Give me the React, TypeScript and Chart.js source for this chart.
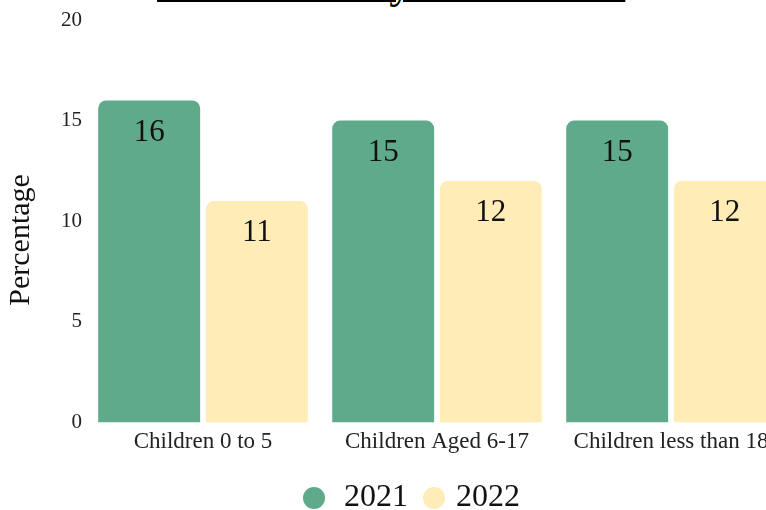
import React, { useEffect, useRef } from "react";
import { Chart, registerables } from "chart.js";

Chart.register(...registerables);

const titleText = "Child Poverty Rate Trend";
const categories = ["Children 0 to 5", "Children Aged 6-17", "Children less than 18"];
const seriesNames = ["2021", "2022"];
const values2021 = [16, 15, 15];
const values2022 = [11, 12, 12];
const yAxisTitle = "Percentage     ";

const GREEN = "#5faa8a";
const YELLOW = "#ffecb6";
const FONT = "'Liberation Serif', 'Times New Roman', serif";

const valueLabels = {
  id: "valueLabels",
  afterDatasetsDraw(chart: any) {
    const ctx = chart.ctx;
    ctx.save();
    ctx.font = `31px ${FONT}`;
    ctx.fillStyle = "#111";
    ctx.textAlign = "center";
    ctx.textBaseline = "middle";
    chart.data.datasets.forEach((ds: any, i: number) => {
      const meta = chart.getDatasetMeta(i);
      meta.data.forEach((el: any, j: number) => {
        ctx.fillText(String(ds.data[j]), el.x, el.y + 32);
      });
    });
    ctx.restore();
  },
};

const legendShift = {
  id: "legendShift",
  afterLayout(chart: any) {
    const lg = chart.legend;
    if (lg) {
      lg.left += 20;
      lg.right += 20;
    }
  },
};

export default function App() {
  const ref = useRef<HTMLCanvasElement>(null);
  useEffect(() => {
    const chart = new Chart(ref.current!, {
      type: "bar",
      data: {
        labels: categories,
        datasets: [
          { label: seriesNames[0], data: values2021, backgroundColor: GREEN, borderRadius: 8, categoryPercentage: 0.92, barPercentage: 0.947 },
          { label: seriesNames[1], data: values2022, backgroundColor: YELLOW, borderRadius: 8, categoryPercentage: 0.92, barPercentage: 0.947 },
        ],
      },
      options: {
        animation: false,
        responsive: false,
        maintainAspectRatio: false,
        layout: { padding: { left: 0, right: 34, top: 20, bottom: 0 } },
        plugins: {
          legend: {
            position: "bottom",
            labels: {
              usePointStyle: true,
              pointStyle: "circle",
              boxWidth: 12,
              boxHeight: 15.6,
              padding: 20,
              color: "#111",
              font: { family: FONT, size: 32 },
              generateLabels: (chart: any) => {
                const items = (Chart as any).defaults.plugins.legend.labels.generateLabels(chart);
                if (items[0]) items[0].text = " " + items[0].text;
                return items;
              },
            },
          },
          tooltip: { enabled: false },
        },
        scales: {
          x: {
            grid: { display: false, drawTicks: false },
            border: { display: false },
            ticks: { padding: 6, color: "#222", font: { family: FONT, size: 23 } },
          },
          y: {
            min: 0,
            max: 20,
            grid: { display: false, drawTicks: false },
            border: { display: false },
            ticks: { stepSize: 5, padding: 4, color: "#222", font: { family: FONT, size: 21 } },
            title: {
              display: true,
              text: yAxisTitle,
              color: "#111",
              padding: { top: 3, bottom: 18 },
              font: { family: FONT, size: 30 },
            },
          },
        },
      },
      plugins: [valueLabels, legendShift],
    });
    return () => chart.destroy();
  }, []);

  return (
    <div style={{ position: "fixed", left: 0, top: 0, width: 766, height: 510, overflow: "hidden", background: "#fff" }}>
      <div
        style={{
          position: "absolute",
          left: 157,
          top: -41.5,
          whiteSpace: "nowrap",
          fontFamily: FONT,
          fontSize: 45.7,
          lineHeight: "46px",
          color: "#000",
          textDecorationLine: "underline",
          textDecorationThickness: "2px",
          textUnderlineOffset: "3px",
        }}
      >
        {titleText}
      </div>
      <canvas ref={ref} width={822} height={524} style={{ position: "absolute", left: 0, top: 0, width: 822, height: 524 }} />
    </div>
  );
}
